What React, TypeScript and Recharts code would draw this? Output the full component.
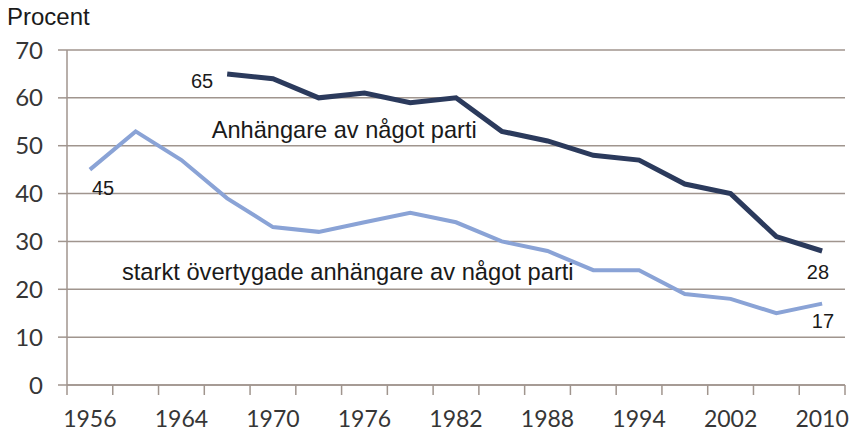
import { LineChart, Line, XAxis, YAxis, CartesianGrid, LabelList } from "recharts";

const years = [
  "1956", "1960", "1964", "1968", "1970", "1973", "1976", "1979", "1982",
  "1985", "1988", "1991", "1994", "1998", "2002", "2006", "2010",
];
const anyParty = [null, null, null, 65, 64, 60, 61, 59, 60, 53, 51, 48, 47, 42, 40, 31, 28];
const strongParty = [45, 53, 47, 39, 33, 32, 34, 36, 34, 30, 28, 24, 24, 19, 18, 15, 17];
const yTicks = [0, 10, 20, 30, 40, 50, 60, 70];

const data = years.map((year, i) => ({ year, anyParty: anyParty[i], strongParty: strongParty[i] }));

const W = 853;
const H = 434;
const margin = { top: 50, right: 8, bottom: 0, left: 0 };
const yAxisWidth = 67;
const plotWidth = W - margin.left - margin.right - yAxisWidth;
const band = plotWidth / years.length;

const axisColor = "#a0958e";
const tickFont = "Lato, 'Open Sans', sans-serif";
const noteFont = "'Liberation Sans', Arial, sans-serif";

function XTick(props: any) {
  const { x, y, payload } = props;
  return (
    <g>
      <line x1={x - band / 2} x2={x - band / 2} y1={y} y2={y + 10} stroke={axisColor} strokeWidth={1.5} />
      <line x1={x + band / 2} x2={x + band / 2} y1={y} y2={y + 10} stroke={axisColor} strokeWidth={1.5} />
      <text x={x} y={y + 42} textAnchor="middle" fontFamily={tickFont} fontSize={23} fill="#363636">
        {payload.value}
      </text>
    </g>
  );
}

function AnyLabel(props: any) {
  const { x, y, index, value } = props;
  if (index === 3)
    return <text x={x - 14} y={y + 14} textAnchor="end" fontFamily={noteFont} fontSize={20} fill="#1a1a1a">{value}</text>;
  if (index === 5)
    return <text x={x - 107} y={y + 40} fontFamily={noteFont} fontSize={23.6} fill="#1a1a1a">Anhängare av något parti</text>;
  if (index === 16)
    return <text x={x + 7} y={y + 28} textAnchor="end" fontFamily={noteFont} fontSize={20} fill="#1a1a1a">{value}</text>;
  return null;
}

function StrongLabel(props: any) {
  const { x, y, index, value } = props;
  if (index === 0)
    return <text x={x + 2} y={y + 25} fontFamily={noteFont} fontSize={20} fill="#1a1a1a">{value}</text>;
  if (index === 4)
    return <text x={x - 151} y={y + 53} fontFamily={noteFont} fontSize={23.7} fill="#1a1a1a">starkt övertygade anhängare av något parti</text>;
  if (index === 16)
    return <text x={x + 12} y={y + 24} textAnchor="end" fontFamily={noteFont} fontSize={20} fill="#1a1a1a">{value}</text>;
  return null;
}

export default function App() {
  return (
    <div style={{ position: "absolute", left: 0, top: 0, width: W, height: H, background: "#fff" }}>
      <div style={{ position: "absolute", left: 7, top: 3, fontFamily: noteFont, fontSize: 24, color: "#1a1a1a" }}>
        Procent
      </div>
      <LineChart width={W} height={H} data={data} margin={margin}>
        <CartesianGrid vertical={false} stroke={axisColor} strokeWidth={1.5} />
        <XAxis
          dataKey="year"
          interval={1}
          padding={{ left: band / 2, right: band / 2 }}
          height={H - 385}
          stroke={axisColor}
          strokeWidth={1.5}
          tickLine={false}
          tickSize={0}
          tickMargin={0}
          tick={<XTick />}
        />
        <YAxis
          width={yAxisWidth}
          domain={[0, 70]}
          ticks={yTicks}
          stroke={axisColor}
          strokeWidth={1.5}
          tickSize={9}
          tickMargin={15}
          tick={{ fontFamily: tickFont, fontSize: 24, fill: "#363636" }}
        />
        <Line
          dataKey="strongParty"
          stroke="#8aa3d6"
          strokeWidth={4}
          dot={false}
          isAnimationActive={false}
        >
          <LabelList dataKey="strongParty" content={<StrongLabel />} />
        </Line>
        <Line
          dataKey="anyParty"
          stroke="#2b3a5c"
          strokeWidth={5}
          dot={false}
          isAnimationActive={false}
        >
          <LabelList dataKey="anyParty" content={<AnyLabel />} />
        </Line>
      </LineChart>
    </div>
  );
}
